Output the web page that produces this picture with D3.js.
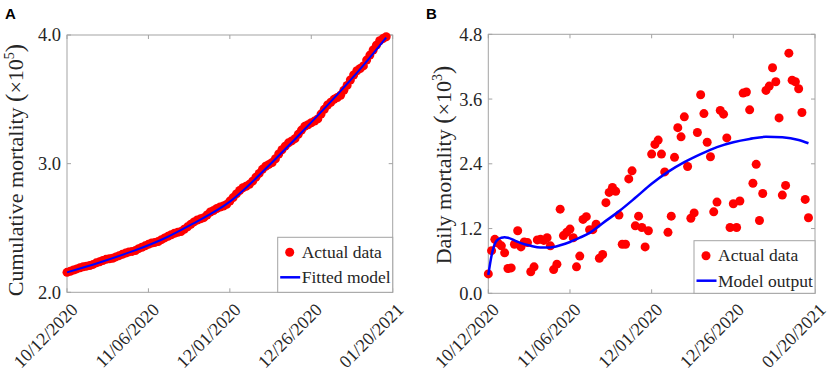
<!DOCTYPE html>
<html><head><meta charset="utf-8">
<script src="https://cdn.jsdelivr.net/npm/d3@7"></script>
<style>body{margin:0;background:#fff}svg{display:block}</style>
</head><body>
<svg id="c" width="829" height="375"></svg>
<script>
const dateLabels = ["10/12/2020","11/06/2020","12/01/2020","12/26/2020","01/20/2021"];
const tickDays = [0,25,50,75,100];
const yTicksA = [2.0,3.0,4.0];
const yTicksB = [0.0,1.2,2.4,3.6,4.8];

// Panel A: cumulative mortality (x10^5), one value per day from 10/12/2020
const cumulative = [2.155,2.163,2.173,2.182,2.191,2.199,2.203,2.208,2.217,2.229,
2.237,2.247,2.256,2.260,2.265,2.275,2.285,2.295,2.305,2.314,
2.318,2.324,2.339,2.350,2.361,2.373,2.383,2.388,2.395,2.409,
2.423,2.435,2.447,2.459,2.466,2.473,2.490,2.509,2.528,2.547,
2.562,2.571,2.580,2.601,2.624,2.636,2.651,2.663,2.671,2.683,
2.709,2.736,2.765,2.791,2.813,2.824,2.839,2.864,2.895,2.924,
2.956,2.980,2.994,3.009,3.038,3.075,3.108,3.136,3.162,3.177,
3.194,3.228,3.261,3.290,3.302,3.318,3.331,3.348,3.385,3.422,
3.456,3.477,3.500,3.514,3.532,3.570,3.608,3.650,3.689,3.722,
3.740,3.760,3.805,3.844,3.883,3.921,3.955,3.972,3.986];
const fitDays = [0,10,20,30,40,50,60,70,80,90,98];
const fitValues = [2.155,2.232,2.318,2.420,2.552,2.705,2.935,3.190,3.455,3.735,3.980];

// Panel B: daily mortality (x10^3)
const daily = [0.36,0.79,1.00,0.93,0.88,0.75,0.46,0.47,0.91,1.16,
0.86,0.95,0.94,0.40,0.49,0.99,1.00,0.98,1.03,0.88,
0.44,0.54,1.56,1.07,1.13,1.19,1.03,0.49,0.69,1.37,
1.42,1.18,1.18,1.28,0.65,0.72,1.68,1.87,1.96,1.89,
1.45,0.91,0.91,2.12,2.27,1.25,1.43,1.22,0.86,1.16,
2.58,2.76,2.84,2.58,2.25,1.13,1.43,2.52,3.07,2.90,
3.27,2.35,1.39,1.49,2.98,3.68,3.33,2.80,2.53,1.51,
1.69,3.39,3.32,2.88,1.22,1.66,1.22,1.71,3.71,3.73,
3.40,2.04,2.39,1.35,1.85,3.76,3.84,4.18,3.92,3.25,
1.82,2.00,4.45,3.95,3.92,3.79,3.35,1.74,1.40];
const modelDays = [0,1,2,3,4,5,6,8,10,13,16,18,20,22,25,28,31,35,40,45,50,55,60,65,70,75,80,85,90,95,98];
const modelValues = [0.34,0.70,0.92,1.00,1.03,1.04,1.03,0.98,0.93,0.88,0.85,0.85,0.86,0.89,0.95,1.03,1.12,1.30,1.52,1.77,2.03,2.25,2.43,2.58,2.71,2.80,2.86,2.90,2.89,2.84,2.78];

const svg = d3.select("#c");
const serif = "'Liberation Serif','Times New Roman',serif";
const axisCol = "#a3a3a3", textCol = "#262626";

function panel(o){
  const g = svg.append("g");
  const x = d3.scaleLinear().domain([0,100]).range([o.x0,o.x1]);
  const y = d3.scaleLinear().domain(o.ydom).range([o.y1,o.y0]);
  g.append("rect").attr("x",o.x0).attr("y",o.y0).attr("width",o.x1-o.x0).attr("height",o.y1-o.y0)
   .attr("fill","none").attr("stroke",axisCol).attr("stroke-width",1);
  tickDays.forEach(d=>{
    g.append("line").attr("x1",x(d)).attr("x2",x(d)).attr("y1",o.y1).attr("y2",o.y1-4).attr("stroke",axisCol);
    g.append("line").attr("x1",x(d)).attr("x2",x(d)).attr("y1",o.y0).attr("y2",o.y0+4).attr("stroke",axisCol);
  });
  o.yticks.forEach(v=>{
    g.append("line").attr("x1",o.x0).attr("x2",o.x0+4).attr("y1",y(v)).attr("y2",y(v)).attr("stroke",axisCol);
    g.append("line").attr("x1",o.x1).attr("x2",o.x1-4).attr("y1",y(v)).attr("y2",y(v)).attr("stroke",axisCol);
    g.append("text").attr("x",o.x0-6).attr("y",y(v)).attr("dy","0.35em").attr("text-anchor","end")
     .attr("font-family",serif).attr("font-size",18.5).attr("fill",textCol).text(v.toFixed(1));
  });
  tickDays.forEach((d,i)=>{
    g.append("text").attr("transform",`translate(${x(d)+3},302) rotate(-45)`)
     .attr("text-anchor","end").attr("dy","0.7em")
     .attr("font-family",serif).attr("font-size",18).attr("fill",textCol).text(dateLabels[i]);
  });
  const t = g.append("text").attr("transform",`translate(${o.lx},${o.ly}) rotate(-90)`)
    .attr("text-anchor","middle").attr("font-family",serif).attr("font-size",22).attr("fill",textCol);
  t.append("tspan").text(o.label+" ");
  t.append("tspan").attr("font-size",25).text("(");
  t.append("tspan").text("×10");
  t.append("tspan").attr("font-size",14).attr("dy",-9).text(o.exp);
  t.append("tspan").attr("dy",9).attr("font-size",25).text(")");
  g.append("text").attr("x",o.px).attr("y",18.5).attr("font-family","'Liberation Sans',Arial,sans-serif")
   .attr("font-weight","bold").attr("font-size",15).attr("fill","#000").text(o.letter);
  return {g,x,y};
}

const A = panel({x0:67,x1:392.7,y0:35,y1:292.3,ydom:[2,4],yticks:yTicksA,lx:23,ly:170,
  label:"Cumulative mortality",exp:"5",letter:"A",px:5});
A.g.selectAll("circle.pt").data(cumulative).join("circle").attr("class","pt")
  .attr("cx",(d,i)=>A.x(i)).attr("cy",d=>A.y(d)).attr("r",4.5).attr("fill","#ff0000");
A.g.append("path").datum(fitDays.map((d,i)=>[d,fitValues[i]]))
  .attr("d",d3.line().x(d=>A.x(d[0])).y(d=>A.y(d[1])).curve(d3.curveNatural))
  .attr("fill","none").attr("stroke","#0000ff").attr("stroke-width",2);

const B = panel({x0:488.3,x1:815,y0:34.3,y1:293.3,ydom:[0,4.8],yticks:yTicksB,lx:451,ly:165,
  label:"Daily mortality",exp:"3",letter:"B",px:426});
B.g.selectAll("circle.pt").data(daily).join("circle").attr("class","pt")
  .attr("cx",(d,i)=>B.x(i)).attr("cy",d=>B.y(d)).attr("r",4.5).attr("fill","#ff0000");
B.g.append("path").datum(modelDays.map((d,i)=>[d,modelValues[i]]))
  .attr("d",d3.line().x(d=>B.x(d[0])).y(d=>B.y(d[1])).curve(d3.curveMonotoneX))
  .attr("fill","none").attr("stroke","#0000ff").attr("stroke-width",2.5);

function legend(x0,y0,x1,y1,lineLabel){
  const g = svg.append("g");
  g.append("rect").attr("x",x0).attr("y",y0).attr("width",x1-x0).attr("height",y1-y0)
   .attr("fill","#fff").attr("stroke",axisCol);
  g.append("circle").attr("cx",x0+12).attr("cy",y0+15).attr("r",4.5).attr("fill","#ff0000");
  g.append("text").attr("x",x0+24).attr("y",y0+20.5).attr("font-family",serif).attr("font-size",17.5)
   .attr("fill",textCol).text("Actual data");
  g.append("line").attr("x1",x0+2.5).attr("x2",x0+22.5).attr("y1",y0+40).attr("y2",y0+40)
   .attr("stroke","#0000ff").attr("stroke-width",2.5);
  g.append("text").attr("x",x0+24).attr("y",y0+46).attr("font-family",serif).attr("font-size",17.5)
   .attr("fill",textCol).text(lineLabel);
}
legend(277.7,237.3,392.7,292.3,"Fitted model");
legend(694,240.7,815,293.3,"Model output");
</script>
</body></html>
